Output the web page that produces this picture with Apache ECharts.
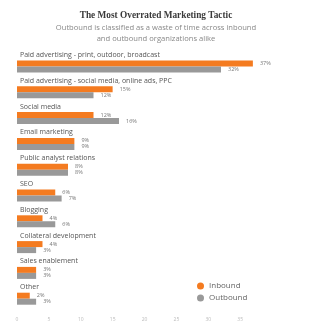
<!DOCTYPE html>
<html>
<head>
<meta charset="utf-8">
<script src="https://cdn.jsdelivr.net/npm/echarts@6/dist/echarts.min.js"></script>
<style>html,body{margin:0;padding:0;background:#fff}#c{width:320px;height:327px}</style>
</head>
<body>
<div id="c"></div>
<script>
var categories = ["Paid advertising - print, outdoor, broadcast","Paid advertising - social media, online ads, PPC","Social media","Email marketing","Public analyst relations","SEO","Blogging","Collateral development","Sales enablement","Other"];
var inbound = [37, 15, 12, 9, 8, 6, 4, 4, 3, 2];
var outbound = [32, 12, 16, 9, 8, 7, 6, 3, 3, 3];
var xTicks = [0, 5, 10, 15, 20, 25, 30, 35];

var chart = echarts.init(document.getElementById('c'));
var valLabel = {show:true, position:'right', distance:7, fontSize:5.5, color:'#777', fontFamily:'Open Sans', formatter:'{c}%'};
chart.setOption({
  animation:false,
  title:{
    text:'The Most Overrated Marketing Tactic',
    subtext:'Outbound is classified as a waste of time across inbound\nand outbound organizations alike',
    left:151, textAlign:'center', top:6, itemGap:3,
    textStyle:{fontFamily:'Liberation Serif', fontWeight:'bold', fontSize:9.3, color:'#3a3a3a'},
    subtextStyle:{fontFamily:'Open Sans', fontSize:7.6, color:'#888', lineHeight:10.5}
  },
  legend:{
    orient:'vertical', left:192, top:277, itemWidth:7, itemHeight:7, itemGap:4,
    icon:'circle', textStyle:{fontFamily:'Open Sans', fontSize:8, color:'#666'},
    data:['Inbound','Outbound']
  },
  grid:{left:17, right:48, top:53.6, bottom:15.4, containLabel:false},
  xAxis:{
    type:'value', min:0, max:40, interval:5,
    axisLine:{show:false}, axisTick:{show:false}, splitLine:{show:false},
    axisLabel:{fontSize:5, color:'#bbb', margin:5, fontFamily:'Open Sans',
      formatter:function(v){return xTicks.indexOf(v)>=0 ? String(v) : '';}}
  },
  yAxis:{
    type:'category', inverse:true, data:categories,
    axisLine:{show:false}, axisTick:{show:false},
    axisLabel:{inside:true, verticalAlign:'bottom', margin:3, padding:[0,0,8,0], fontSize:7, color:'#555', fontFamily:'Open Sans'}
  },
  series:[
    {name:'Inbound', type:'bar', data:inbound, barWidth:6, barGap:'0%', itemStyle:{color:'#f47b20'}, label:valLabel},
    {name:'Outbound', type:'bar', data:outbound, barWidth:6, barGap:'0%', itemStyle:{color:'#999999'}, label:valLabel}
  ]
});
</script>
</body>
</html>
